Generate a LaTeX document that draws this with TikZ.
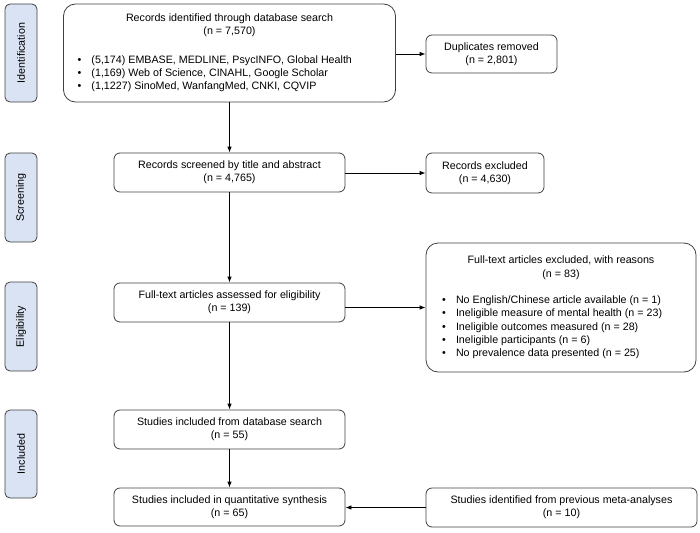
\documentclass[tikz,border=0pt]{standalone}
\usepackage{fontspec}
\setmainfont{Liberation Sans}
\usetikzlibrary{arrows.meta}

\definecolor{stagefill}{RGB}{218,227,243}
\definecolor{boxline}{RGB}{64,64,64}

% one bullet line, left aligned in a box of width #1
\newcommand{\itm}[2]{\makebox[#1][l]{\makebox[14pt][l]{\textbullet}#2}}

\begin{document}
\begin{tikzpicture}[x=1pt,y=-1pt,
		every node/.style={font=\fontsize{10.7}{13.3}\selectfont},
		stage/.style={draw=boxline,line width=0.8pt,fill=stagefill,rounded corners=5pt,
			minimum height=32pt,inner sep=0pt,rotate=90},
		flowbox/.style={draw=boxline,line width=0.8pt,rounded corners=6pt,
			minimum height=39pt,inner sep=0pt,align=center},
		bigbox/.style={draw=boxline,line width=0.8pt,rounded corners=12pt,
			inner sep=0pt,align=center},
		link/.style={-{Latex[length=6pt,width=4.5pt]},line width=0.8pt}]
		\useasboundingbox (0,0) rectangle (700,532);
		% stages
		\node [stage,minimum width=98pt] (ident) at (21,53) {Identification};
		\node [stage,minimum width=89pt] (screen) at (21,197.5) {Screening};
		\node [stage,minimum width=89pt] (elig) at (21,326.5) {Eligibility};
		\node [stage,minimum width=88pt] (incl) at (21,454) {Included};
		% main column
		\node [bigbox,minimum width=332pt,minimum height=98pt] (search) at (229.5,53)
			{Records identified through database search\\(n = 7,570)\\[15pt]
			\itm{304pt}{(5,174) EMBASE, MEDLINE, PsycINFO, Global Health}\\
			\itm{304pt}{(1,169) Web of Science, CINAHL, Google Scholar}\\
			\itm{304pt}{(1,1227) SinoMed, WanfangMed, CNKI, CQVIP}};
		\node [flowbox,minimum width=231pt] (screened) at (229.5,172.5)
			{Records screened by title and abstract\\(n = 4,765)};
		\node [flowbox,minimum width=231pt] (fulltext) at (229.5,302.5)
			{Full-text articles assessed for eligibility\\(n = 139)};
		\node [flowbox,minimum width=231pt] (dbincl) at (229.5,429.5)
			{Studies included from database search\\(n = 55)};
		\node [flowbox,minimum width=231pt,minimum height=38pt] (quant) at (229.5,507)
			{Studies included in quantitative synthesis\\(n = 65)};
		% right column
		\node [flowbox,minimum width=131pt,minimum height=38pt] (dup) at (491.5,54)
			{Duplicates removed\\(n = 2,801)};
		\node [flowbox,minimum width=118pt,minimum height=40pt] (excl) at (485,173)
			{Records excluded\\(n = 4,630)};
		\node [bigbox,minimum width=270pt,minimum height=129pt] (ftexcl) at (561,307.5)
			{Full-text articles excluded, with reasons\\(n = 83)\\[13pt]
			\itm{238pt}{No English/Chinese article available (n = 1)}\\
			\itm{238pt}{Ineligible measure of mental health (n = 23)}\\
			\itm{238pt}{Ineligible outcomes measured (n = 28)}\\
			\itm{238pt}{Ineligible participants (n = 6)}\\
			\itm{238pt}{No prevalence data presented (n = 25)}};
		\node [flowbox,minimum width=271pt] (prev) at (561.5,507.5)
			{Studies identified from previous meta-analyses\\(n = 10)};
		% arrows
		\draw[link] (search.south) -- (screened.north);
		\draw[link] (screened.south) -- (fulltext.north);
		\draw[link] (fulltext.south) -- (dbincl.north);
		\draw[link] (dbincl.south) -- (quant.north);
		\draw[link] (search.east |- dup.west) -- (dup.west);
		\draw[link] (screened.east |- excl.west) -- (excl.west);
		\draw[link] (fulltext.east |- ftexcl.west) -- (ftexcl.west);
		\draw[link] (prev.west) -- (quant.east |- prev.west);
\end{tikzpicture}
\end{document}
